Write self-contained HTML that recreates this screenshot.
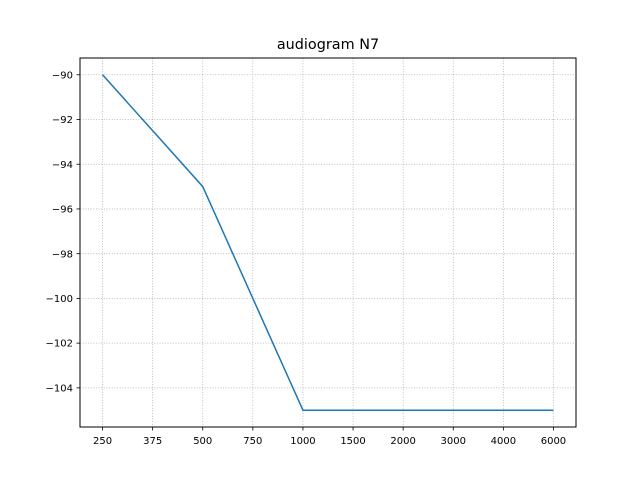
<!DOCTYPE html>
<html><head><meta charset="utf-8"><style>body{margin:0;background:#fff}svg{display:block}</style></head>
<body>
<svg id="chart" width="640" height="480" xmlns="http://www.w3.org/2000/svg" font-family="'DejaVu Sans','Liberation Sans',sans-serif">
<rect width="640" height="480" fill="#fff"/>
<text x="328" y="49" text-anchor="middle" font-size="14.4">audiogram N7</text>
<g id="grid"></g><g id="ticks"></g><g id="series"></g>
<rect x="80" y="58" width="496" height="369" fill="none" stroke="#000" stroke-width="1"/>
</svg>
<script>
const categories = ["250","375","500","750","1000","1500","2000","3000","4000","6000"];
const values = [-90,-92.5,-95,-100,-105,-105,-105,-105,-105,-105];
const yTicks = [-90,-92,-94,-96,-98,-100,-102,-104];
const L=80,R=576,T=58,B=427;
const xmin=-0.45,xmax=categories.length-1+0.45,ymin=-105.75,ymax=-89.25;
const xs=i=>L+(i-xmin)/(xmax-xmin)*(R-L);
const ys=v=>B-(v-ymin)/(ymax-ymin)*(B-T);
const NS="http://www.w3.org/2000/svg";
function mk(t,a,p){const e=document.createElementNS(NS,t);for(const k in a)e.setAttribute(k,a[k]);p.appendChild(e);return e;}
const g=document.getElementById('grid'),tk=document.getElementById('ticks'),s=document.getElementById('series');
categories.forEach((c,i)=>{const x=xs(i);
 const gl=mk('line',{x1:x,x2:x,y1:T,y2:B,stroke:'#b0b0b0','stroke-width':0.8,'stroke-dasharray':'1,1.65'},g);
 
 
 mk('line',{x1:x,x2:x,y1:B,y2:B+3.5,stroke:'#000','stroke-width':0.8},tk);
 const t=mk('text',{x:x,y:B+17,'text-anchor':'middle','font-size':10},tk);t.textContent=c;
 
 
});
yTicks.forEach(v=>{const y=ys(v);
 const gl=mk('line',{x1:L,x2:R,y1:y,y2:y,stroke:'#b0b0b0','stroke-width':0.8,'stroke-dasharray':'1,1.65'},g);
 
 
 mk('line',{x1:L-3.5,x2:L,y1:y,y2:y,stroke:'#000','stroke-width':0.8},tk);
 const t=mk('text',{x:L-7,y:y+3.6,'text-anchor':'end','font-size':10},tk);t.textContent='\u2212'+Math.abs(v);
 
 
});
const p=mk('polyline',{points:values.map((v,i)=>xs(i)+','+ys(v)).join(' '),fill:'none',stroke:'#1f77b4','stroke-width':1.5},s);


</script>
</body></html>
